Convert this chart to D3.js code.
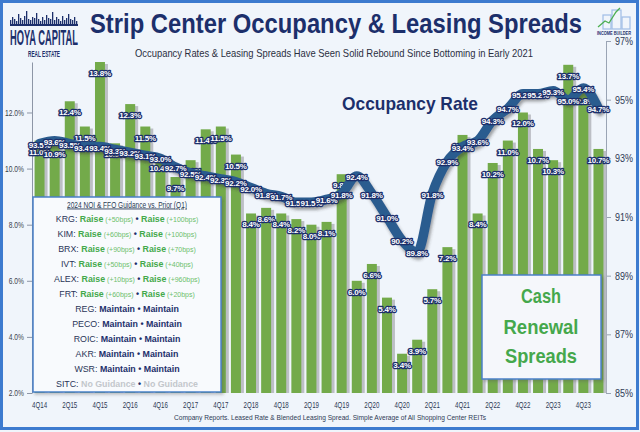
<!DOCTYPE html>
<html><head><meta charset="utf-8">
<script src="https://cdn.jsdelivr.net/npm/d3@7"></script>
<style>
html,body{margin:0;padding:0;background:#fff;}
svg{display:block;}
text{font-family:"Liberation Sans",Arial,sans-serif;}
</style></head><body>
<svg id="chart" width="640" height="432"></svg>
<script>
// ---------- DATA ----------
const quarters = ["4Q14","1Q15","2Q15","3Q15","4Q15","1Q16","2Q16","3Q16","4Q16","1Q17","2Q17","3Q17","4Q17",
  "1Q18","2Q18","3Q18","4Q18","1Q19","2Q19","3Q19","4Q19","1Q20","2Q20","3Q20","4Q20","1Q21","2Q21","3Q21","4Q21",
  "1Q22","2Q22","3Q22","4Q22","1Q23","2Q23","3Q23","4Q23","1Q24"];
const tickLabels = ["4Q14","2Q15","4Q15","2Q16","4Q16","2Q17","4Q17","2Q18","4Q18","2Q19","4Q19","2Q20","4Q20",
  "2Q21","4Q21","2Q22","4Q22","2Q23","4Q23"];
const cashSpreads = [11.0,10.9,12.4,11.5,13.8,10.9,12.3,11.5,10.4,9.7,10.3,11.4,11.5,10.5,8.4,8.6,8.4,8.2,8.0,8.1,
  9.8,6.0,6.6,5.4,3.4,3.9,5.7,7.2,11.2,8.4,10.2,11.0,12.0,10.7,10.3,13.7,12.8,10.7];
const occupancy = [93.5,93.6,93.5,93.4,93.4,93.3,93.2,93.1,93.0,92.7,92.5,92.4,92.3,92.2,92.0,91.8,91.7,91.5,91.5,91.6,
  91.8,92.4,91.8,91.0,90.2,89.8,91.8,92.9,93.4,93.6,94.3,94.7,95.2,95.2,95.3,95.0,95.4,94.7];
const leftTicks = [2,4,6,8,10,12];
const rightTicks = [85,87,89,91,93,95,97];

const tickers = ["KRG","KIM","BRX","IVT","ALEX","FRT","REG","PECO","ROIC","AKR","WSR","SITC"];
const noiGuidance = ["Raise","Raise","Raise","Raise","Raise","Raise","Maintain","Maintain","Maintain","Maintain","Maintain","No Guidance"];
const noiChange = ["+50bps","+60bps","+90bps","+50bps","+10bps","+60bps","","","","","",""];
const ffoGuidance = ["Raise","Raise","Raise","Raise","Raise","Raise","Maintain","Maintain","Maintain","Maintain","Maintain","No Guidance"];
const ffoChange = ["+100bps","+100bps","+70bps","+40bps","+960bps","+20bps","","","","","",""];

// ---------- SETUP ----------
const W = 640, H = 432;
const NAVY = "#1c2f6b", GREEN = "#73aa4a", LINE = "#2c5b8f";
const svg = d3.select("#chart");
const defs = svg.append("defs");
const sh = defs.append("filter").attr("id","shadow").attr("x","-10%").attr("y","-10%").attr("width","130%").attr("height","140%");
sh.append("feDropShadow").attr("dx",1.5).attr("dy",3).attr("stdDeviation",1.6).attr("flood-color","#333").attr("flood-opacity",0.45);
const bsh = defs.append("filter").attr("id","boxshadow").attr("x","-10%").attr("y","-10%").attr("width","130%").attr("height","130%");
bsh.append("feDropShadow").attr("dx",2).attr("dy",2).attr("stdDeviation",1.5).attr("flood-color","#555").attr("flood-opacity",0.35);

svg.append("rect").attr("width",W).attr("height",H).attr("fill","#f0f5fb");

const x = d3.scaleBand().domain(quarters).range([32,606]).paddingInner(0.34).paddingOuter(0.17);
const cx = q => x(q) + x.bandwidth()/2;
const yL = d3.scaleLinear().domain([2,13.8]).range([393,62]);
const yR = d3.scaleLinear().domain([85,97]).range([393,41]);

// ---------- AXES ----------
const axL = svg.append("g").attr("transform","translate(32,0)")
  .call(d3.axisLeft(yL).tickValues(leftTicks).tickFormat(d=>d.toFixed(1)+"%").tickSize(5).tickSizeOuter(0));
axL.select(".domain").attr("stroke","#8d96a6");
axL.selectAll(".tick line").attr("stroke","#8d96a6");
axL.selectAll("text").attr("font-size",8.5).attr("fill","#3a3f4a").attr("font-family","Liberation Sans, Arial")
  .attr("textLength",function(){return this.textContent.length*3.8;}).attr("lengthAdjust","spacingAndGlyphs");

const axR = svg.append("g").attr("transform","translate(606,0)")
  .call(d3.axisRight(yR).tickValues(rightTicks).tickFormat(d=>d+"%").tickSize(5).tickPadding(4).tickSizeOuter(0));
axR.select(".domain").attr("stroke","#9aa4b4");
axR.selectAll(".tick line").attr("stroke","#9aa4b4");
axR.selectAll("text").attr("font-size",10.5).attr("fill","#2e3a55").attr("font-family","Liberation Sans, Arial")
  .attr("textLength",18).attr("lengthAdjust","spacingAndGlyphs");

const axB = svg.append("g").attr("transform","translate(0,393)")
  .call(d3.axisBottom(x).tickValues(tickLabels).tickSize(0).tickPadding(9));
axB.select(".domain").remove();
axB.selectAll("text").attr("font-size",8.5).attr("fill","#2e3a55").attr("font-family","Liberation Sans, Arial")
  .attr("textLength",15).attr("lengthAdjust","spacingAndGlyphs");

// ---------- BARS ----------
const bars = svg.append("g");
bars.selectAll("rect.sh").data(quarters).join("rect").attr("class","sh")
  .attr("x",q=>x(q)+3).attr("y",(q,i)=>yL(cashSpreads[i])+2)
  .attr("width",x.bandwidth()).attr("height",(q,i)=>yL(2)-yL(cashSpreads[i])-2)
  .attr("fill","#bcbfc5");
bars.selectAll("rect.bar").data(quarters).join("rect").attr("class","bar")
  .attr("x",q=>x(q)).attr("y",(q,i)=>yL(cashSpreads[i]))
  .attr("width",x.bandwidth()).attr("height",(q,i)=>yL(2)-yL(cashSpreads[i]))
  .attr("fill",GREEN);

function labelStyle(sel){
  sel.attr("text-anchor","middle").attr("font-size",8).attr("font-weight","bold")
    .attr("fill","#fff").attr("stroke",NAVY).attr("stroke-width",2.6).attr("stroke-linejoin","round")
    .attr("paint-order","stroke").attr("letter-spacing",-0.2);
}
svg.append("g").selectAll("text").data(quarters).join("text")
  .attr("x",cx).attr("y",(q,i)=>yL(cashSpreads[i])+14)
  .text((q,i)=>cashSpreads[i].toFixed(1)+"%").call(labelStyle);

// ---------- LINE ----------
const line = d3.line().x((d,i)=>cx(quarters[i])).y(d=>yR(d)).curve(d3.curveMonotoneX);
svg.append("path").datum(occupancy).attr("d",line).attr("fill","none")
  .attr("stroke",LINE).attr("stroke-width",9.5).attr("stroke-linecap","round").attr("stroke-linejoin","round")
  .attr("filter","url(#shadow)");
svg.append("g").selectAll("text").data(occupancy).join("text")
  .attr("x",(d,i)=>cx(quarters[i])).attr("y",d=>yR(d)+4)
  .text(d=>d.toFixed(1)+"%").call(labelStyle);

// ---------- GUIDANCE BOX ----------
svg.append("rect").attr("x",33).attr("y",197).attr("width",188).attr("height",195)
  .attr("fill","#f8fafd").attr("stroke","#4a80c8").attr("stroke-width",1.5).attr("filter","url(#boxshadow)");
svg.append("text").attr("x",127).attr("y",207.5).attr("text-anchor","middle").attr("font-size",9)
  .attr("fill","#2b3a55").attr("text-decoration","underline")
  .attr("textLength",120).attr("lengthAdjust","spacingAndGlyphs")
  .text("2024 NOI & FFO Guidance vs. Prior (Q1)");
const gColor = g => g==="Raise" ? "#43a94a" : g==="Maintain" ? NAVY : "#c3c7cc";
tickers.forEach((t,i)=>{
  const tx = svg.append("text").attr("x",127).attr("y",222+15*i).attr("text-anchor","middle")
    .attr("font-size",9.5).attr("fill","#2a3558");
  tx.append("tspan").text(t+": ");
  tx.append("tspan").attr("font-weight","bold").attr("fill",gColor(noiGuidance[i])).text(noiGuidance[i]);
  if(noiChange[i]) tx.append("tspan").attr("font-size",7.5).attr("fill","#6cbf6c").text(" ("+noiChange[i]+")");
  tx.append("tspan").attr("fill",NAVY).attr("font-weight","bold").text(" \u2022 ");
  tx.append("tspan").attr("font-weight","bold").attr("fill",gColor(ffoGuidance[i])).text(ffoGuidance[i]);
  if(ffoChange[i]) tx.append("tspan").attr("font-size",7.5).attr("fill","#6cbf6c").text(" ("+ffoChange[i]+")");
  const w = tx.node().getComputedTextLength();
  tx.attr("textLength",w*0.93).attr("lengthAdjust","spacingAndGlyphs");
});

// ---------- CASH BOX ----------
svg.append("rect").attr("x",482).attr("y",275).attr("width",119).attr("height",104)
  .attr("fill","#f5f7fb").attr("stroke","#4a80c8").attr("stroke-width",1.5).attr("filter","url(#boxshadow)");
[["Cash",303,40],["Renewal",334,75],["Spreads",363,72]].forEach(([s,yy,tl])=>{
  svg.append("text").attr("x",541).attr("y",yy).attr("text-anchor","middle").attr("font-size",21)
    .attr("font-weight","bold").attr("fill","#45a84c").attr("textLength",tl).attr("lengthAdjust","spacingAndGlyphs").text(s);
});

// ---------- TITLES ----------
svg.append("text").attr("x",90).attr("y",33).attr("font-family","Roboto, Liberation Sans, Arial")
  .attr("font-size",28).attr("font-weight","bold").attr("fill",NAVY)
  .attr("textLength",492).attr("lengthAdjust","spacingAndGlyphs")
  .text("Strip Center Occupancy & Leasing Spreads");
svg.append("text").attr("x",135).attr("y",57).attr("font-size",11.5).attr("fill","#2b2f3f")
  .attr("textLength",398).attr("lengthAdjust","spacingAndGlyphs")
  .text("Occupancy Rates & Leasing Spreads Have Seen Solid Rebound Since Bottoming in Early 2021");
svg.append("text").attr("x",342).attr("y",110).attr("font-family","Roboto, Liberation Sans, Arial")
  .attr("font-size",19).attr("font-weight","bold").attr("fill",NAVY)
  .attr("textLength",136).attr("lengthAdjust","spacingAndGlyphs").text("Occupancy Rate");
svg.append("text").attr("x",330).attr("y",420).attr("text-anchor","middle").attr("font-size",8).attr("fill","#2e3a55")
  .attr("textLength",312).attr("lengthAdjust","spacingAndGlyphs")
  .text("Company Reports. Leased Rate & Blended Leasing Spread. Simple Average of All Shopping Center REITs");

// ---------- LOGOS ----------
const sky = [3,6,4,2,9,5,3,7,12,4,3,6,5,10,4,2,6,3,8,5,4,11,3,6,4,2,7,3,5,9,4,3,6,2];
const lg = svg.append("g");
sky.forEach((h,i)=>{
  lg.append("rect").attr("x",10+i*2).attr("y",25-h-2).attr("width",1.3).attr("height",h+2).attr("fill",NAVY);
});
lg.append("rect").attr("x",10).attr("y",24).attr("width",68).attr("height",2).attr("fill",NAVY);
lg.append("text").attr("x",44).attr("y",45).attr("text-anchor","middle").attr("font-size",22).attr("font-weight","bold")
  .attr("fill",NAVY).attr("textLength",68).attr("lengthAdjust","spacingAndGlyphs").text("HOYA CAPITAL");
lg.append("text").attr("x",44).attr("y",57).attr("text-anchor","middle").attr("font-size",9.5).attr("font-weight","bold")
  .attr("fill",NAVY).attr("textLength",32).attr("lengthAdjust","spacingAndGlyphs").text("REAL ESTATE");

const ib = svg.append("g");
[[603,15,8,14],[612,10,9,19],[622,17,8,12]].forEach(([bx,by,bw,bh])=>{
  ib.append("rect").attr("x",bx).attr("y",by).attr("width",bw).attr("height",bh).attr("fill","none")
    .attr("stroke","#9fbde6").attr("stroke-width",1.2);
});
ib.append("path").attr("d","M598,27 L605,21 L609,23 L616,12 L620,8").attr("fill","none")
  .attr("stroke","#4caf50").attr("stroke-width",1.3);
ib.append("text").attr("x",614).attr("y",35).attr("text-anchor","middle").attr("font-size",5.5).attr("font-weight","bold")
  .attr("fill",NAVY).attr("textLength",34).attr("lengthAdjust","spacingAndGlyphs").text("INCOME BUILDER");

// frame
svg.append("rect").attr("x",1.5).attr("y",1.5).attr("width",636).attr("height",427).attr("fill","none")
  .attr("stroke","#3d7bcf").attr("stroke-width",3);
</script>
</body></html>
